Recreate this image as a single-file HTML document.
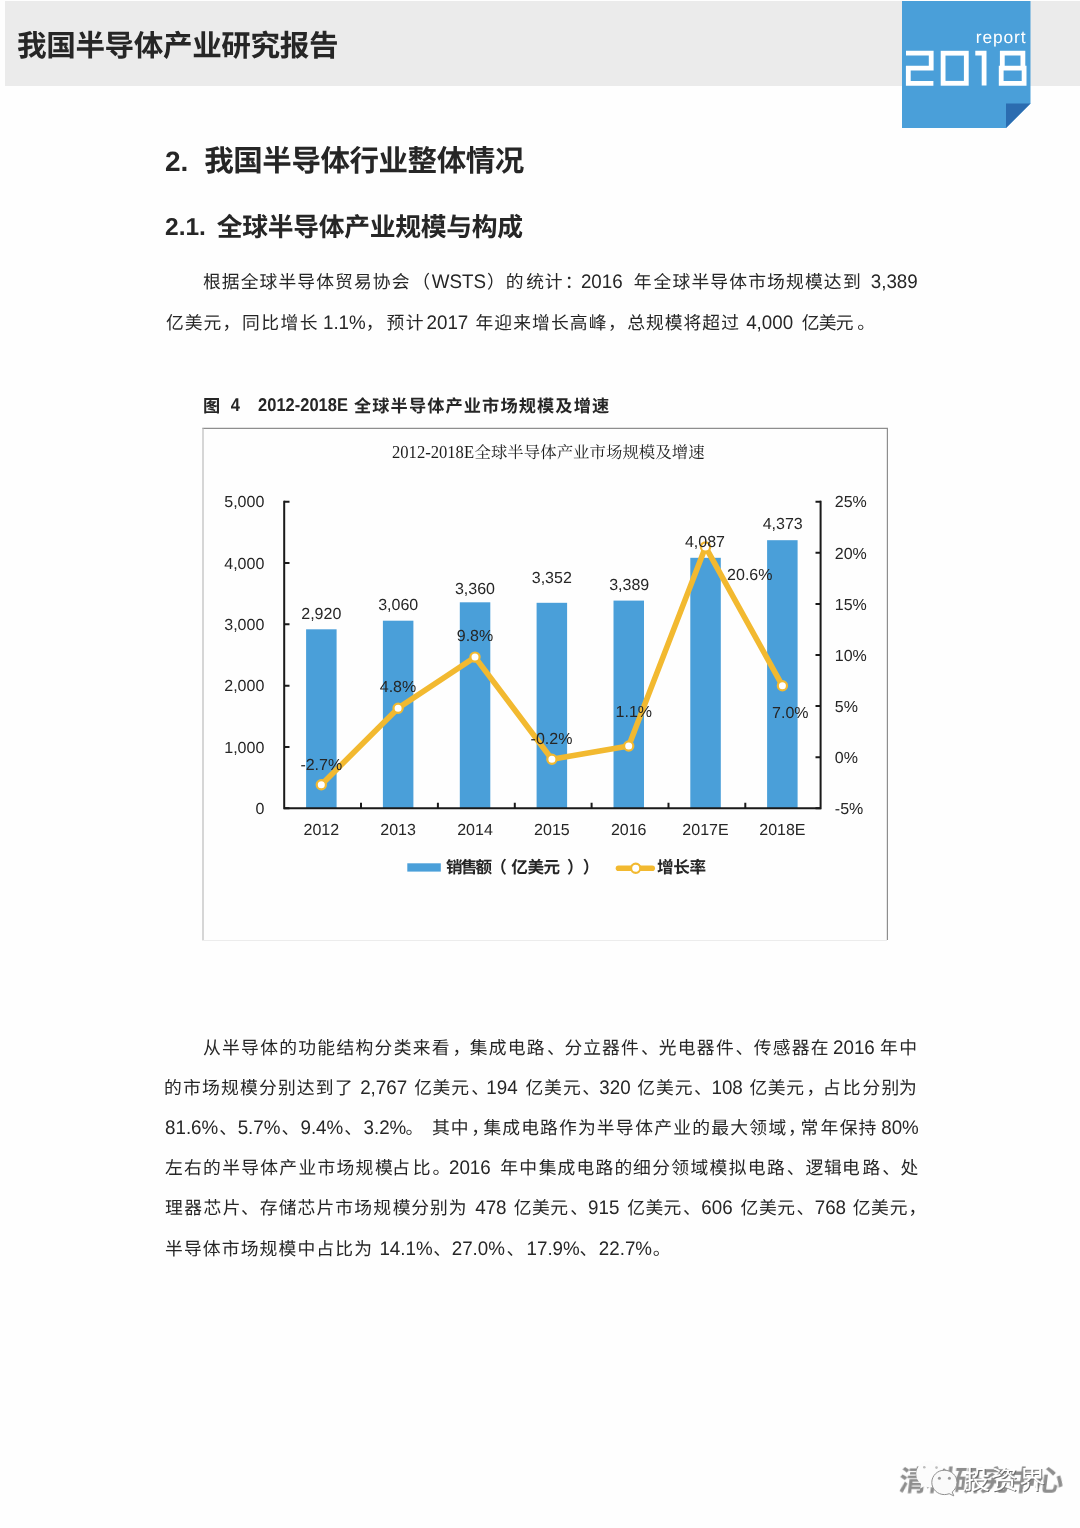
<!DOCTYPE html><html lang="zh-CN"><head><meta charset="utf-8"><title>我国半导体产业研究报告</title><style>
*{margin:0;padding:0;box-sizing:border-box}
html,body{width:1080px;height:1528px;background:#fefefe;overflow:hidden}
body{position:relative;font-family:"Liberation Sans","Noto Sans CJK SC",sans-serif;color:#262626;font-kerning:none;text-rendering:geometricPrecision;-webkit-font-smoothing:antialiased}
.abs{will-change:transform;position:absolute;display:block;overflow:visible}
.band{position:absolute;left:5px;top:1px;width:1075px;height:84.6px;background:#ebebeb}
.ln{will-change:transform;position:absolute;white-space:pre;line-height:40px;height:40px;font-weight:400;font-style:normal}
.ln.b{font-weight:700}
.ln.sf{font-family:"Liberation Serif","Noto Serif CJK SC",serif}
.c{font-size:var(--c,1em);letter-spacing:var(--s,0px)}
.t{margin-right:var(--s,0px)}
.sp{display:inline-block;height:1px}
.sg{position:absolute;top:0;left:0;white-space:pre}
.bd .t{display:inline-block;transform:scaleY(1.045);transform-origin:0 26.5px}
.cap .t{display:inline-block;transform:scaleY(1.12);transform-origin:0 25.7px}
.ct .t{display:inline-block;transform:scaleY(1.1);transform-origin:0 25.5px}
svg text{font-family:"Liberation Sans",sans-serif}
</style></head><body><header><div class="band"></div><div class="ln b hd" style="left:17.28px;top:26.89px;font-size:29.60px;--sw:3.80;"><span class="sg" style="left:0.00px;--s:-0.40px"><span class="c">我国半导体产业研究报告</span></span></div><svg class="abs" style="left:896px;top:0" width="140" height="134" viewBox="896 0 140 134">
<polygon points="902,1 1030.5,1 1030.5,103.5 1006,128 902,128" fill="#4a9fd9"/>
<polygon points="1006,103.5 1030.5,103.5 1006,128" fill="#2b6cb0"/>
<g fill="none" stroke="#fff" stroke-width="4.8" stroke-linecap="butt" stroke-linejoin="miter">
<path d="M906,53.2H931.2V68.1H908.3V83.3H933.4"/>
<rect x="943.1" y="53.2" width="23.2" height="30.1"/>
<path d="M975.3,53.2H984.1V85.6"/>
<path d="M1002.3,68.1V53.2H1022.9V68.1M1001.2,68.1H1024.1V83.3H1001.2Z"/>
</g>
<text x="1026.4" y="43" text-anchor="end" font-size="17.4" fill="#fff" letter-spacing="0.85">report</text>
</svg></header><main><h1 class="ln b" style="left:165.03px;top:142.21px;font-size:28.00px;--c:29.50px;"><span class="sg" style="left:0.00px;--s:15.90px"><span class="t">2.</span></span><span class="sg" style="left:39.26px;--s:-0.45px"><span class="c">我国半导体行业整体情况</span></span></h1><h2 class="ln b" style="left:164.75px;top:207.51px;font-size:24.50px;--c:25.80px;"><span class="sg" style="left:0.00px;--s:10.87px"><span class="t">2.1.</span></span><span class="sg" style="left:51.74px;--s:-0.30px"><span class="c">全球半导体产业规模与构成</span></span></h2><p><span class="ln bd" style="left:203.34px;top:262.35px;font-size:18.80px;--c:17.80px;--sw:2.25;"><span class="sg" style="left:0.00px;--s:1.08px"><span class="c">根据全球半导体贸易协</span></span><span class="sg" style="left:188.76px;--s:2.72px"><span class="c">会</span></span><span class="sg" style="left:209.28px;--s:1.70px"><span class="c">（</span></span><span class="sg" style="left:228.78px;--s:0.96px"><span class="t">WSTS</span></span><span class="sg" style="left:284.04px;--s:1.03px"><span class="c">）</span></span><span class="sg" style="left:302.87px;--s:2.66px"><span class="c">的</span></span><span class="sg" style="left:323.34px;--s:0.67px"><span class="c">统</span></span><span class="sg" style="left:341.80px;--s:2.09px"><span class="c">计</span></span><span class="sg" style="left:361.69px;--s:-1.58px"><span class="c">：</span></span><span class="sg" style="left:377.91px;--s:5.83px"><span class="t">2016 </span></span><span class="sg" style="left:430.79px;--s:1.97px"><span class="c">年</span></span><span class="sg" style="left:450.56px;--s:1.14px"><span class="c">全球半导体市场规模达</span></span><span class="sg" style="left:639.92px;--s:10.02px"><span class="c">到</span></span><span class="sg" style="left:667.74px;--s:1.10px"><span class="t">3,389</span></span></span><span class="ln bd" style="left:165.61px;top:302.65px;font-size:18.80px;--c:17.80px;--sw:2.25;"><span class="sg" style="left:0.00px;--s:1.02px"><span class="c">亿美元</span></span><span class="sg" style="left:56.47px;--s:1.81px"><span class="c">，</span></span><span class="sg" style="left:76.09px;--s:1.43px"><span class="c">同比增</span></span><span class="sg" style="left:133.77px;--s:5.38px"><span class="c">长</span></span><span class="sg" style="left:156.96px;--s:0.07px"><span class="t">1.1%</span></span><span class="sg" style="left:199.87px;--s:2.70px"><span class="c">，</span></span><span class="sg" style="left:220.38px;--s:1.56px"><span class="c">预</span></span><span class="sg" style="left:239.73px;--s:3.01px"><span class="c">计</span></span><span class="sg" style="left:260.54px;--s:7.15px"><span class="t">2017</span></span><span class="sg" style="left:309.52px;--s:1.06px"><span class="c">年迎来增长高</span></span><span class="sg" style="left:422.69px;--s:1.59px"><span class="c">峰</span></span><span class="sg" style="left:442.07px;--s:1.31px"><span class="c">，</span></span><span class="sg" style="left:461.19px;--s:1.00px"><span class="c">总规模将超</span></span><span class="sg" style="left:555.18px;--s:7.18px"><span class="c">过</span></span><span class="sg" style="left:580.16px;--s:8.50px"><span class="t">4,000</span></span><span class="sg" style="left:635.70px;--s:-0.68px"><span class="c">亿</span></span><span class="sg" style="left:652.82px;--s:-0.84px"><span class="c">美</span></span><span class="sg" style="left:669.78px;--s:3.72px"><span class="c">元</span></span><span class="sg" style="left:691.30px;--s:1.10px"><span class="c">。</span></span></span></p><figure><figcaption class="ln b cap" style="left:202.66px;top:385.82px;font-size:16.50px;--c:17.20px;"><span class="sg" style="left:0.00px;--s:10.49px"><span class="c">图</span></span><span class="sg" style="left:27.69px;--s:18.20px"><span class="t">4</span></span><span class="sg" style="left:55.07px;--s:5.98px"><span class="t">2012-2018E</span></span><span class="sg" style="left:150.96px;--s:1.12px"><span class="c">全球半导体产业市场规模及增</span></span><span class="sg" style="left:389.11px;--s:1.13px"><span class="c">速</span></span></figcaption><svg class="abs" style="left:0;top:420px" width="1080" height="530" viewBox="0 420 1080 530" font-size="16" fill="#262626"><path d="M202.3,428.4H888" stroke="#8e8e8e" stroke-width="1.1"/><path d="M887.4,428.4V940" stroke="#8e8e8e" stroke-width="1.2"/><path d="M203,428.4V940.5" stroke="#c9c9c9" stroke-width="1.5"/><path d="M202.3,940.5H887" stroke="#ececec" stroke-width="1.1"/><rect x="306.1" y="629.3" width="30.5" height="179.0" fill="#4a9fd9"/><rect x="382.9" y="620.7" width="30.5" height="187.6" fill="#4a9fd9"/><rect x="459.8" y="602.3" width="30.5" height="206.0" fill="#4a9fd9"/><rect x="536.6" y="602.8" width="30.5" height="205.5" fill="#4a9fd9"/><rect x="613.5" y="600.6" width="30.5" height="207.7" fill="#4a9fd9"/><rect x="690.3" y="557.8" width="30.5" height="250.5" fill="#4a9fd9"/><rect x="767.1" y="540.2" width="30.5" height="268.1" fill="#4a9fd9"/><g stroke="#1a1a1a" stroke-width="2" fill="none"><path d="M284.2,500.7V809.3M283.2,808.3H821.6M820.6,500.7V809.3"/><path d="M284,501.7h5.5M284,563.0h5.5M284,624.3h5.5M284,685.7h5.5M284,747.0h5.5M284,808.3h5.5M821,501.7h-5.5M821,552.8h-5.5M821,603.9h-5.5M821,655.0h-5.5M821,706.1h-5.5M821,757.2h-5.5M821,808.3h-5.5M361.0,808.3v-5.5M437.9,808.3v-5.5M514.8,808.3v-5.5M591.6,808.3v-5.5M668.5,808.3v-5.5M745.3,808.3v-5.5"/></g><polyline points="321.3,784.8 398.1,708.2 475.0,657.1 551.9,759.2 628.7,746.0 705.5,546.9 782.4,685.7" fill="none" stroke="#f2b930" stroke-width="5.6" stroke-linejoin="round" stroke-linecap="round"/><circle cx="321.3" cy="784.8" r="4.6" fill="#fff" stroke="#f2b930" stroke-width="2.2"/><circle cx="398.1" cy="708.2" r="4.6" fill="#fff" stroke="#f2b930" stroke-width="2.2"/><circle cx="475.0" cy="657.1" r="4.6" fill="#fff" stroke="#f2b930" stroke-width="2.2"/><circle cx="551.9" cy="759.2" r="4.6" fill="#fff" stroke="#f2b930" stroke-width="2.2"/><circle cx="628.7" cy="746.0" r="4.6" fill="#fff" stroke="#f2b930" stroke-width="2.2"/><circle cx="705.5" cy="546.9" r="4.6" fill="#fff" stroke="#f2b930" stroke-width="2.2"/><circle cx="782.4" cy="685.7" r="4.6" fill="#fff" stroke="#f2b930" stroke-width="2.2"/><text x="264.3" y="507.4" text-anchor="end">5,000</text><text x="264.3" y="568.7" text-anchor="end">4,000</text><text x="264.3" y="630.0" text-anchor="end">3,000</text><text x="264.3" y="691.4" text-anchor="end">2,000</text><text x="264.3" y="752.7" text-anchor="end">1,000</text><text x="264.3" y="814.0" text-anchor="end">0</text><text x="834.8" y="507.4">25%</text><text x="834.8" y="558.5">20%</text><text x="834.8" y="609.6">15%</text><text x="834.8" y="660.7">10%</text><text x="834.8" y="711.8">5%</text><text x="834.8" y="762.9">0%</text><text x="834.8" y="814.0">-5%</text><text x="321.3" y="834.8" text-anchor="middle">2012</text><text x="398.1" y="834.8" text-anchor="middle">2013</text><text x="475.0" y="834.8" text-anchor="middle">2014</text><text x="551.9" y="834.8" text-anchor="middle">2015</text><text x="628.7" y="834.8" text-anchor="middle">2016</text><text x="705.5" y="834.8" text-anchor="middle">2017E</text><text x="782.4" y="834.8" text-anchor="middle">2018E</text><text x="321.3" y="619.0" text-anchor="middle">2,920</text><text x="398.2" y="610.2" text-anchor="middle">3,060</text><text x="475.0" y="593.9" text-anchor="middle">3,360</text><text x="551.8" y="583.4" text-anchor="middle">3,352</text><text x="629.2" y="589.7" text-anchor="middle">3,389</text><text x="705.0" y="547.4" text-anchor="middle">4,087</text><text x="782.7" y="529.0" text-anchor="middle">4,373</text><text x="321.3" y="769.7" text-anchor="middle">-2.7%</text><text x="398.0" y="692.4" text-anchor="middle">4.8%</text><text x="475.0" y="641.2" text-anchor="middle">9.8%</text><text x="551.5" y="744.0" text-anchor="middle">-0.2%</text><text x="633.8" y="716.7" text-anchor="middle">1.1%</text><text x="749.8" y="580.0" text-anchor="middle">20.6%</text><text x="790.3" y="718.0" text-anchor="middle">7.0%</text><rect x="407.3" y="863.3" width="33.5" height="8.3" fill="#4a9fd9"/><path d="M618.5,868.3H652.2" stroke="#f2b930" stroke-width="5.6" stroke-linecap="round"/><circle cx="635.7" cy="868.3" r="4.6" fill="#fff" stroke="#f2b930" stroke-width="2.2"/></svg><div class="ln sf ct" style="left:392.07px;top:433.33px;font-size:16.60px;--c:16.40px;color:#1c1c1c;"><span class="sg" style="left:0.00px;--s:0.40px"><span class="t">2012-2018E</span></span><span class="sg" style="left:82.47px;--s:0.05px"><span class="c">全球半导体产业市场规模及增</span></span><span class="sg" style="left:296.37px;--s:0.05px"><span class="c">速</span></span></div><div class="ln b lg" style="left:445.57px;top:848.36px;font-size:16.60px;"><span class="sg" style="left:0.00px;--s:-1.89px"><span class="c">销售额</span></span><span class="sg" style="left:44.13px;--s:4.51px"><span class="c">（</span></span><span class="sg" style="left:65.23px;--s:-0.41px"><span class="c">亿美</span></span><span class="sg" style="left:97.62px;--s:6.77px"><span class="c">元</span></span><span class="sg" style="left:120.99px;--s:-0.80px"><span class="c">）</span></span><span class="sg" style="left:136.79px;--s:-0.30px"><span class="c">）</span></span></div><div class="ln b lg" style="left:656.74px;top:848.36px;font-size:16.60px;"><span class="sg" style="left:0.00px;--s:-0.32px"><span class="c">增长率</span></span></div></figure><p><span class="ln bd" style="left:203.22px;top:1028.25px;font-size:18.80px;--c:17.80px;--sw:2.25;"><span class="sg" style="left:0.00px;--s:1.28px"><span class="c">从半导体的功能结构分</span></span><span class="sg" style="left:190.83px;--s:1.22px"><span class="c">类来</span></span><span class="sg" style="left:228.86px;--s:2.91px"><span class="c">看</span></span><span class="sg" style="left:249.57px;--s:-0.74px"><span class="c">，</span></span><span class="sg" style="left:266.63px;--s:1.28px"><span class="c">集成电</span></span><span class="sg" style="left:323.87px;--s:2.35px"><span class="c">路</span></span><span class="sg" style="left:344.02px;--s:-0.26px"><span class="c">、</span></span><span class="sg" style="left:361.56px;--s:1.00px"><span class="c">分立器</span></span><span class="sg" style="left:417.98px;--s:2.24px"><span class="c">件</span></span><span class="sg" style="left:438.02px;--s:-0.08px"><span class="c">、</span></span><span class="sg" style="left:455.74px;--s:1.25px"><span class="c">光电器</span></span><span class="sg" style="left:512.88px;--s:1.84px"><span class="c">件</span></span><span class="sg" style="left:532.52px;--s:0.52px"><span class="c">、</span></span><span class="sg" style="left:550.84px;--s:1.14px"><span class="c">传感器</span></span><span class="sg" style="left:607.65px;--s:4.58px"><span class="c">在</span></span><span class="sg" style="left:630.04px;--s:5.15px"><span class="t">2016</span></span><span class="sg" style="left:677.01px;--s:1.33px"><span class="c">年</span></span><span class="sg" style="left:696.14px;--s:1.10px"><span class="c">中</span></span></span><span class="ln bd" style="left:164.02px;top:1068.30px;font-size:18.80px;--c:17.80px;--sw:2.25;"><span class="sg" style="left:0.00px;--s:1.20px"><span class="c">的市场规模分别达到</span></span><span class="sg" style="left:170.96px;--s:7.38px"><span class="c">了</span></span><span class="sg" style="left:196.14px;--s:7.11px"><span class="t">2,767</span></span><span class="sg" style="left:250.30px;--s:0.42px"><span class="c">亿</span></span><span class="sg" style="left:268.52px;--s:0.96px"><span class="c">美</span></span><span class="sg" style="left:287.28px;--s:2.15px"><span class="c">元</span></span><span class="sg" style="left:307.22px;--s:-2.67px"><span class="c">、</span></span><span class="sg" style="left:322.35px;--s:7.68px"><span class="t">194</span></span><span class="sg" style="left:361.40px;--s:0.94px"><span class="c">亿美</span></span><span class="sg" style="left:398.88px;--s:1.65px"><span class="c">元</span></span><span class="sg" style="left:418.32px;--s:-0.85px"><span class="c">、</span></span><span class="sg" style="left:435.27px;--s:6.56px"><span class="t">320</span></span><span class="sg" style="left:473.20px;--s:0.94px"><span class="c">亿美</span></span><span class="sg" style="left:510.68px;--s:1.65px"><span class="c">元</span></span><span class="sg" style="left:530.12px;--s:-0.47px"><span class="c">、</span></span><span class="sg" style="left:547.45px;--s:6.58px"><span class="t">108</span></span><span class="sg" style="left:585.40px;--s:0.59px"><span class="c">亿美</span></span><span class="sg" style="left:622.18px;--s:2.59px"><span class="c">元</span></span><span class="sg" style="left:642.57px;--s:-1.62px"><span class="c">，</span></span><span class="sg" style="left:658.75px;--s:2.16px"><span class="c">占</span></span><span class="sg" style="left:678.71px;--s:1.95px"><span class="c">比</span></span><span class="sg" style="left:698.47px;--s:1.30px"><span class="c">分</span></span><span class="sg" style="left:717.56px;--s:-0.37px"><span class="c">别</span></span><span class="sg" style="left:734.99px;--s:1.10px"><span class="c">为</span></span></span><span class="ln bd" style="left:164.78px;top:1108.35px;font-size:18.80px;--c:17.80px;--sw:2.25;"><span class="sg" style="left:0.00px;--s:0.95px"><span class="t">81.6%</span></span><span class="sg" style="left:54.26px;--s:0.61px"><span class="c">、</span></span><span class="sg" style="left:72.66px;--s:0.94px"><span class="t">5.7%</span></span><span class="sg" style="left:116.46px;--s:1.18px"><span class="c">、</span></span><span class="sg" style="left:135.44px;--s:0.87px"><span class="t">9.4%</span></span><span class="sg" style="left:179.16px;--s:1.55px"><span class="c">、</span></span><span class="sg" style="left:198.50px;--s:-0.92px"><span class="t">3.2%</span></span><span class="sg" style="left:240.43px;--s:8.86px"><span class="c">。</span></span><span class="sg" style="left:267.10px;--s:0.77px"><span class="c">其</span></span><span class="sg" style="left:285.67px;--s:2.73px"><span class="c">中</span></span><span class="sg" style="left:306.20px;--s:-5.54px"><span class="c">，</span></span><span class="sg" style="left:318.47px;--s:1.10px"><span class="c">集成电路作为半</span></span><span class="sg" style="left:450.80px;--s:1.63px"><span class="c">导</span></span><span class="sg" style="left:470.23px;--s:1.23px"><span class="c">体产业的最大领</span></span><span class="sg" style="left:603.46px;--s:1.64px"><span class="c">域</span></span><span class="sg" style="left:622.90px;--s:-5.27px"><span class="c">，</span></span><span class="sg" style="left:635.43px;--s:2.21px"><span class="c">常</span></span><span class="sg" style="left:655.44px;--s:1.56px"><span class="c">年</span></span><span class="sg" style="left:674.81px;--s:0.99px"><span class="c">保</span></span><span class="sg" style="left:693.60px;--s:4.80px"><span class="c">持</span></span><span class="sg" style="left:716.20px;--s:1.10px"><span class="t">80%</span></span></span><span class="ln bd" style="left:165.07px;top:1148.40px;font-size:18.80px;--c:17.80px;--sw:2.25;"><span class="sg" style="left:0.00px;--s:1.28px"><span class="c">左右的半导体产业市场规</span></span><span class="sg" style="left:209.93px;--s:-0.73px"><span class="c">模</span></span><span class="sg" style="left:227.00px;--s:2.86px"><span class="c">占</span></span><span class="sg" style="left:247.66px;--s:1.99px"><span class="c">比</span></span><span class="sg" style="left:267.45px;--s:-1.26px"><span class="c">。</span></span><span class="sg" style="left:283.99px;--s:9.35px"><span class="t">2016</span></span><span class="sg" style="left:335.16px;--s:1.33px"><span class="c">年</span></span><span class="sg" style="left:354.29px;--s:1.59px"><span class="c">中</span></span><span class="sg" style="left:373.68px;--s:1.17px"><span class="c">集成电路</span></span><span class="sg" style="left:449.55px;--s:0.76px"><span class="c">的</span></span><span class="sg" style="left:468.11px;--s:1.33px"><span class="c">细分领域模拟电</span></span><span class="sg" style="left:602.02px;--s:1.95px"><span class="c">路</span></span><span class="sg" style="left:621.77px;--s:1.03px"><span class="c">、</span></span><span class="sg" style="left:640.60px;--s:0.69px"><span class="c">逻</span></span><span class="sg" style="left:659.09px;--s:0.15px"><span class="c">辑</span></span><span class="sg" style="left:677.04px;--s:2.68px"><span class="c">电</span></span><span class="sg" style="left:697.52px;--s:1.95px"><span class="c">路</span></span><span class="sg" style="left:717.27px;--s:0.32px"><span class="c">、</span></span><span class="sg" style="left:735.39px;--s:1.10px"><span class="c">处</span></span></span><span class="ln bd" style="left:164.94px;top:1188.45px;font-size:18.80px;--c:17.80px;--sw:2.25;"><span class="sg" style="left:0.00px;--s:1.41px"><span class="c">理器芯</span></span><span class="sg" style="left:57.63px;--s:0.47px"><span class="c">片</span></span><span class="sg" style="left:75.90px;--s:1.17px"><span class="c">、</span></span><span class="sg" style="left:94.87px;--s:1.09px"><span class="c">存储芯片市场</span></span><span class="sg" style="left:208.18px;--s:1.77px"><span class="c">规</span></span><span class="sg" style="left:227.75px;--s:0.84px"><span class="c">模分别</span></span><span class="sg" style="left:283.66px;--s:8.77px"><span class="c">为</span></span><span class="sg" style="left:310.23px;--s:7.28px"><span class="t">478</span></span><span class="sg" style="left:348.87px;--s:0.39px"><span class="c">亿美</span></span><span class="sg" style="left:385.25px;--s:2.15px"><span class="c">元</span></span><span class="sg" style="left:405.20px;--s:0.08px"><span class="c">、</span></span><span class="sg" style="left:423.08px;--s:7.83px"><span class="t">915</span></span><span class="sg" style="left:462.27px;--s:0.34px"><span class="c">亿美</span></span><span class="sg" style="left:498.55px;--s:1.75px"><span class="c">元</span></span><span class="sg" style="left:518.10px;--s:0.41px"><span class="c">、</span></span><span class="sg" style="left:536.30px;--s:7.90px"><span class="t">606</span></span><span class="sg" style="left:575.57px;--s:0.59px"><span class="c">亿美</span></span><span class="sg" style="left:612.35px;--s:1.25px"><span class="c">元</span></span><span class="sg" style="left:631.40px;--s:0.50px"><span class="c">、</span></span><span class="sg" style="left:649.69px;--s:6.71px"><span class="t">768</span></span><span class="sg" style="left:687.77px;--s:0.32px"><span class="c">亿</span></span><span class="sg" style="left:705.89px;--s:1.16px"><span class="c">美</span></span><span class="sg" style="left:724.85px;--s:0.79px"><span class="c">元</span></span><span class="sg" style="left:743.44px;--s:1.10px"><span class="c">，</span></span></span><span class="ln bd" style="left:165.24px;top:1228.50px;font-size:18.80px;--c:17.80px;--sw:2.25;"><span class="sg" style="left:0.00px;--s:1.14px"><span class="c">半导体市场规模中占比</span></span><span class="sg" style="left:189.36px;--s:7.26px"><span class="c">为</span></span><span class="sg" style="left:214.43px;--s:0.46px"><span class="t">14.1%</span></span><span class="sg" style="left:268.20px;--s:0.72px"><span class="c">、</span></span><span class="sg" style="left:286.72px;--s:1.58px"><span class="t">27.0%</span></span><span class="sg" style="left:341.60px;--s:2.13px"><span class="c">、</span></span><span class="sg" style="left:361.53px;--s:-0.34px"><span class="t">17.9%</span></span><span class="sg" style="left:414.50px;--s:1.52px"><span class="c">、</span></span><span class="sg" style="left:433.82px;--s:0.66px"><span class="t">22.7%</span></span><span class="sg" style="left:487.78px;--s:1.10px"><span class="c">。</span></span></span></p></main><div class="ln b wm" style="left:899.03px;top:1461.56px;font-size:28.60px;color:#8e8e8e;transform:skewX(-7deg);transform-origin:50% 50%;filter:blur(0.45px);"><span class="sg" style="left:0.00px;--s:-1.39px"><span class="c">清科研究中心</span></span></div><svg class="abs" style="left:905px;top:1452px" width="70" height="54" viewBox="905 1452 70 54">
<path d="M930,1460.5c7.6,0 13.8,6 13.8,13.4c0,7.4-6.2,13.4-13.8,13.4c-2,0-3.9-.4-5.6-1.100l-4.200,2.300l.9-4.500c-3-2.400-4.900-6.100-4.900-10.100c0-7.400,6.200-13.400,13.800-13.400z" fill="#fcfcfc"/>
<circle cx="924.300" cy="1467.300" r="1.300" fill="#bdbdbd"/><circle cx="936.500" cy="1467.600" r="1.300" fill="#bdbdbd"/>
<path d="M944.400,1470.200c7,0 12.600,5.500 12.600,12.200c0,3.900-1.900,7.300-4.800,9.600l1.600,3.900l-4.600-2.200c-1.500,.6-3.100,.9-4.800,.9c-7,0-12.600-5.500-12.600-12.200c0-6.700,5.600-12.200,12.600-12.200z" fill="#fafafa" stroke="#8f8f8f" stroke-width="1"/>
<circle cx="939.400" cy="1478.300" r="1.500" fill="#9a9a9a"/><circle cx="949.400" cy="1478.300" r="1.500" fill="#9a9a9a"/>
</svg><div class="ln wm2" style="left:963.52px;top:1460.17px;font-size:26.00px;color:#fff;filter:drop-shadow(1.300px 1.300px 0.400px #6e6e6e);"><span class="sg" style="left:0.00px;--s:1.39px"><span class="c">投</span></span><span class="sg" style="left:27.39px;--s:1.85px"><span class="c">资</span></span><span class="sg" style="left:55.24px;--s:0.00px"><span class="c">界</span></span></div></body></html>
